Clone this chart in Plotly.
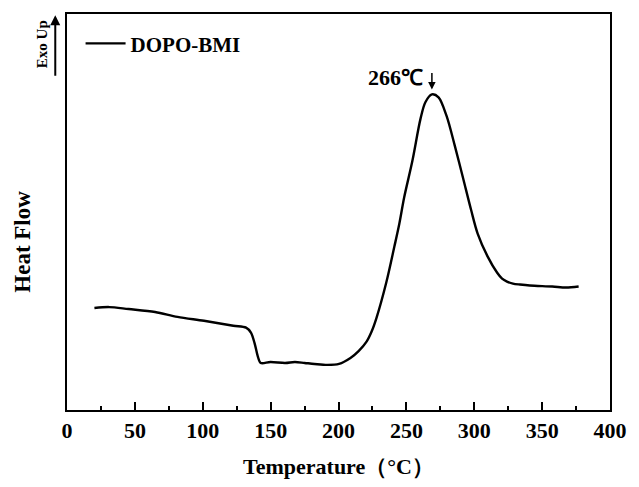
import plotly.graph_objects as go

# Temperature (°C) and heat flow (arbitrary units, exo up)
temperature = [20.2, 31.0, 45.4, 64.9, 81.4, 100.9, 122.5, 131.9, 135.5, 138.4, 140.5, 142.7,
               149.9, 160.7, 167.9, 175.1, 182.3, 191.7, 200.4, 208.8, 214.8, 220.8, 224.4, 228.0,
               235.2, 241.2, 244.8, 248.4, 254.4, 260.4, 264.0, 268.8, 273.7, 279.6, 285.6,
               291.7, 297.7, 302.5, 309.7, 316.9, 320.5, 324.1, 328.5, 333.7, 340.9, 357.5,
               367.6, 376.9]
heat_flow = [1.04, 1.05, 1.03, 1.00, 0.95, 0.91, 0.86, 0.84, 0.79, 0.67, 0.55, 0.48,
             0.49, 0.48, 0.49, 0.48, 0.47, 0.46, 0.47, 0.53, 0.60, 0.70, 0.80, 0.94,
             1.30, 1.67, 1.90, 2.17, 2.54, 2.97, 3.14, 3.22, 3.19, 3.00, 2.70,
             2.37, 2.04, 1.80, 1.57, 1.40, 1.34, 1.31, 1.29, 1.28, 1.27, 1.26,
             1.25, 1.26]
x_ticks = [0, 50, 100, 150, 200, 250, 300, 350, 400]
series_name = "DOPO-BMI"
peak_temp = 268.8
peak_label = "266℃"

FONT = "Liberation Serif"

fig = go.Figure()
fig.add_trace(go.Scatter(x=temperature, y=heat_flow, mode="lines", name=series_name,
                         line=dict(color="black", width=2.4, shape="spline", smoothing=0.9)))

fig.update_layout(
    width=639, height=487,
    margin=dict(l=67, r=17, t=13, b=70),
    plot_bgcolor="white", paper_bgcolor="white",
    font=dict(family=FONT, color="black"),
    showlegend=True,
    legend=dict(x=0.025, y=0.925, xanchor="left", yanchor="middle",
                bgcolor="rgba(0,0,0,0)", font=dict(family=FONT, size=21, color="black", weight="bold"),
                itemwidth=40),
)
fig.update_xaxes(range=[0, 400], tickvals=x_ticks, ticks="inside", ticklen=8, tickwidth=2,
                 tickcolor="black", showline=True, linecolor="black", linewidth=2, mirror=True,
                 showgrid=False, zeroline=False,
                 tickfont=dict(family=FONT, size=22, color="black", weight="bold"),
                 minor=dict(dtick=25, ticks="inside", ticklen=4, tickwidth=2, tickcolor="black"),
                 title=dict(text="Temperature（°C）", standoff=16,
                            font=dict(family=FONT, size=22, color="black", weight="bold")))
fig.update_yaxes(range=[0, 4.04], showticklabels=False, ticks="", showline=True, linecolor="black",
                 linewidth=2, mirror=True, showgrid=False, zeroline=False)

fig.add_annotation(text="Heat Flow", xref="paper", yref="paper", x=-0.081, y=0.425,
                   textangle=-90, showarrow=False, xanchor="center", yanchor="middle",
                   font=dict(family=FONT, size=23, color="black", weight="bold"))
fig.add_annotation(text="Exo Up", xref="paper", yref="paper", x=-0.047, y=0.925,
                   textangle=-90, showarrow=False, xanchor="center", yanchor="middle",
                   font=dict(family=FONT, size=15, color="black", weight="bold"))
fig.add_annotation(text="", xref="paper", yref="paper", x=-0.0216, y=0.997,
                   ax=0, ay=62, showarrow=True, arrowhead=2, arrowsize=1, arrowwidth=2,
                   arrowcolor="black")
fig.add_annotation(text="", x=peak_temp, y=3.27, ax=0, ay=-18, showarrow=True,
                   arrowhead=2, arrowsize=1, arrowwidth=1.5, arrowcolor="black")
fig.add_annotation(text=peak_label, x=peak_temp - 5, y=3.39, showarrow=False,
                   xanchor="right", yanchor="middle",
                   font=dict(family=FONT, size=22, color="black", weight="bold"))

fig.write_html("out.html")
